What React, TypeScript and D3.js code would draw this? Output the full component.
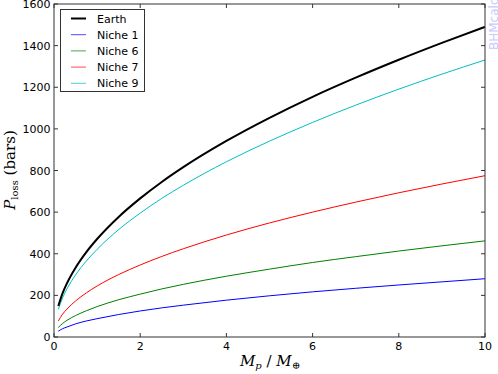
import React from "react";
import * as d3 from "d3";

const massValues = [0.1, 0.2, 0.3, 0.5, 0.75, 1, 1.5, 2, 2.5, 3, 4, 5, 6, 7, 8, 9, 10];
const earthValues = [149, 211, 258, 333, 408, 471, 577, 666, 745, 816, 942, 1053, 1154, 1246, 1332, 1413, 1490];
const niche9Values = [133, 188, 231, 298, 365, 421, 516, 595, 666, 729, 842, 941, 1031, 1114, 1191, 1263, 1331];
const niche7Values = [77, 110, 134, 173, 212, 245, 300, 346, 387, 424, 490, 548, 600, 648, 693, 735, 775];
const niche6Values = [46, 65, 80, 103, 126, 146, 179, 206, 231, 253, 292, 326, 358, 386, 413, 438, 462];
const niche1Values = [28, 40, 48, 63, 77, 88, 108, 125, 140, 153, 177, 198, 217, 234, 250, 265, 280];

const xTicks = [0, 2, 4, 6, 8, 10];
const yTicks = [0, 200, 400, 600, 800, 1000, 1200, 1400, 1600];

const seriesNames = ["Earth", "Niche 1", "Niche 6", "Niche 7", "Niche 9"];
const seriesData = [earthValues, niche1Values, niche6Values, niche7Values, niche9Values];
const seriesColors = ["#000000", "#0000ff", "#008000", "#ff0000", "#00bfbf"];
const seriesWidths = [2, 1, 1, 1, 1];

export default function App() {
  const W = 498, H = 374;
  const L = 54, R = 485, T = 4, B = 337;
  const x = d3.scaleLinear().domain([0, 10]).range([L, R]);
  const y = d3.scaleLinear().domain([0, 1600]).range([B, T]);
  const font = "'DejaVu Sans', sans-serif";
  const tl = 4;

  const line = (vals: number[]) =>
    d3.line<number>()
      .x((_, i) => x(massValues[i]))
      .y((v) => y(v))
      .curve(d3.curveMonotoneX)(vals) as string;

  const drawOrder = [4, 3, 2, 1, 0];

  return (
    <svg width={W} height={H} style={{ position: "absolute", left: 0, top: 0 }}>
      <rect x={0} y={0} width={W} height={H} fill="#fff" />
      {drawOrder.map((k) => (
        <path key={k} d={line(seriesData[k])} fill="none" stroke={seriesColors[k]} strokeWidth={seriesWidths[k]} />
      ))}
      {xTicks.map((t) => (
        <g key={"x" + t}>
          <line x1={x(t)} x2={x(t)} y1={B} y2={B - tl} stroke="#000" strokeWidth={0.8} />
          <line x1={x(t)} x2={x(t)} y1={T} y2={T + tl} stroke="#000" strokeWidth={0.8} />
          <text x={x(t)} y={B + 12.5} fontSize={11} fontFamily={font} textAnchor="middle">{t}</text>
        </g>
      ))}
      {yTicks.map((t) => (
        <g key={"y" + t}>
          <line x1={L} x2={L + tl} y1={y(t)} y2={y(t)} stroke="#000" strokeWidth={0.8} />
          <line x1={R} x2={R - tl} y1={y(t)} y2={y(t)} stroke="#000" strokeWidth={0.8} />
          <text x={L - 3.5} y={y(t) + 4} fontSize={11} fontFamily={font} textAnchor="end">{t}</text>
        </g>
      ))}
      <rect x={L} y={T} width={R - L} height={B - T} fill="none" stroke="#333" strokeWidth={1} />
      <rect x={60.5} y={9.5} width={84} height={82} fill="#fff" stroke="#333" strokeWidth={1} />
      {seriesNames.map((n, i) => {
        const ly = 18.5 + i * 16.2;
        return (
          <g key={n}>
            <line x1={71} x2={86} y1={ly} y2={ly} stroke={seriesColors[i]} strokeWidth={seriesWidths[i]} opacity={i === 0 ? 1 : 0.7} />
            <text x={97} y={ly + 4} fontSize={11} fontFamily={font}>{n}</text>
          </g>
        );
      })}
      <text x={270} y={366} fontSize={15} fontFamily="'DejaVu Serif', serif" textAnchor="middle">
        <tspan fontStyle="italic">M</tspan>
        <tspan fontStyle="italic" fontSize={10} dy={3}>p</tspan>
        <tspan dy={-3}> / </tspan>
        <tspan fontStyle="italic">M</tspan>
        <tspan fontSize={10} dy={3}>⊕</tspan>
      </text>
      <text transform="translate(15,170) rotate(-90)" fontSize={15} fontFamily="'DejaVu Serif', serif" textAnchor="middle">
        <tspan fontStyle="italic">P</tspan>
        <tspan fontSize={10} dy={3}>loss</tspan>
        <tspan dy={-3}> (bars)</tspan>
      </text>
      <text transform="translate(498,50) rotate(-90)" fontSize={12} fontFamily={font} fill="#c8c8ff">BHMcalc</text>
    </svg>
  );
}
